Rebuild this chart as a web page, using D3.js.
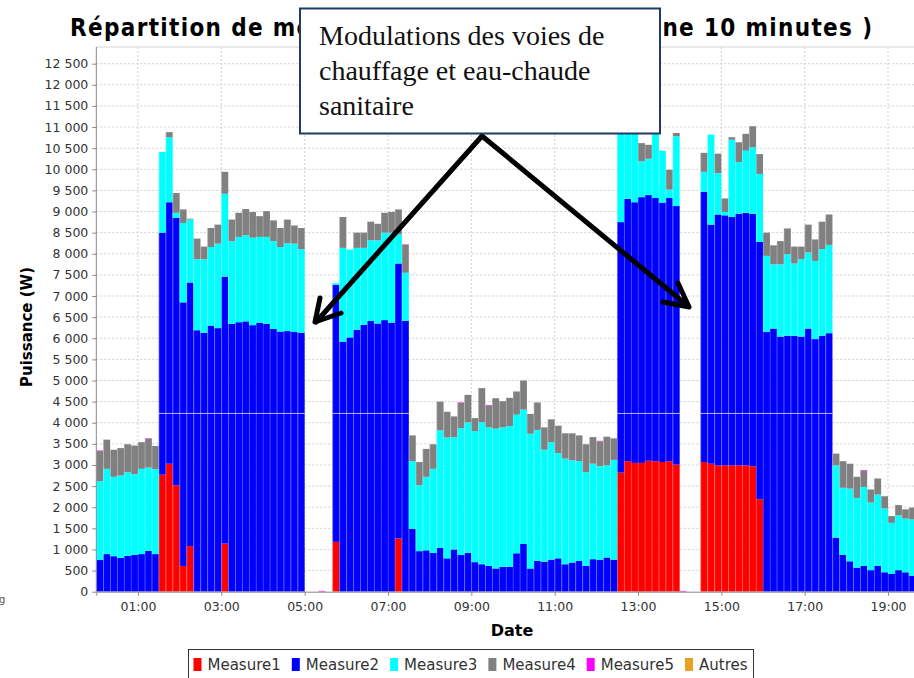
<!DOCTYPE html>
<html>
<head>
<meta charset="utf-8">
<script src="https://cdn.jsdelivr.net/npm/d3@7"></script>
<style>
  body { margin: 0; background: #fff; }
  svg { display: block; font-family: "DejaVu Sans", sans-serif; }
</style>
</head>
<body>
<div id="chart"></div>
<script>
// 10 minute averages, one value per bar, starting at 00:00
const START_TIME = '00:00';
const STEP_MINUTES = 10;

const measure1 = [
  0, 0, 0, 0, 0, 0, 0, 0, 0, 2770,
  3030, 2520, 610, 1080, 0, 0, 0, 0, 1140, 0,
  0, 0, 0, 0, 0, 0, 0, 0, 0, 0,
  0, 0, 0, 0, 1180, 0, 0, 0, 0, 0,
  0, 0, 0, 1260, 0, 0, 0, 0, 0, 0,
  0, 0, 0, 0, 0, 0, 0, 0, 0, 0,
  0, 0, 0, 0, 0, 0, 0, 0, 0, 0,
  0, 0, 0, 0, 0, 2820, 3090, 3050, 3050, 3100,
  3090, 3070, 3090, 3010, 0, 0, 0, 3070, 3030, 2990,
  2990, 2990, 2990, 2990, 2970, 2190, 0, 0, 0, 0,
  0, 0, 0, 0, 0, 0, 0, 0, 0, 0,
  0, 0, 0, 0, 0, 0, 0, 0
];
const measure2 = [
  750, 890, 840, 800, 850, 870, 890, 970, 890, 5730,
  6190, 6330, 6240, 6240, 6190, 6130, 6300, 6240, 6320, 6340,
  6380, 6400, 6310, 6370, 6340, 6220, 6160, 6170, 6150, 6130,
  0, 0, 0, 0, 6080, 5920, 6020, 6200, 6320, 6410,
  6350, 6430, 6370, 6510, 6410, 1490, 960, 980, 920, 1040,
  790, 1000, 870, 920, 700, 650, 610, 550, 590, 590,
  910, 1130, 550, 730, 710, 760, 790, 650, 690, 730,
  610, 770, 750, 810, 760, 5930, 6210, 6170, 6290, 6290,
  6230, 6140, 6230, 6120, 0, 0, 0, 6400, 5660, 5940,
  5920, 5880, 5960, 5980, 5980, 6090, 6150, 6230, 6040, 6060,
  6060, 6040, 6230, 5980, 6060, 6120, 1280, 870, 720, 570,
  610, 510, 610, 460, 420, 510, 460, 380
];
const measure3 = [
  1870, 2020, 1880, 1950, 1980, 1910, 2020, 1970, 2010, 1910,
  1540, 120, 1880, 1490, 1680, 1740, 1860, 2000, 1960, 1960,
  2020, 2040, 2070, 2030, 2060, 2080, 2000, 2080, 2090, 1980,
  0, 0, 0, 0, 40, 2220, 2080, 1940, 1820, 1910,
  1970, 2070, 2130, 690, 1140, 1600, 1560, 1740, 1990, 2780,
  2860, 2660, 3000, 3090, 3100, 3360, 3280, 3310, 3300, 3330,
  3280, 3180, 3190, 3100, 2650, 2780, 2490, 2500, 2420, 2360,
  2220, 2260, 2220, 2180, 2360, 2750, 2300, 2280, 850, 860,
  1980, 1230, 200, 1650, 0, 0, 0, 470, 2130, 980,
  80, 1830, 1220, 1470, 1570, 1610, 1800, 1520, 1710, 1930,
  1710, 1830, 1800, 1850, 2050, 2090, 1710, 1590, 1720, 1650,
  1870, 1600, 1690, 1510, 1210, 1300, 1270, 1330
];
const measure4 = [
  710, 690, 640, 650, 660, 680, 630, 680, 550, 0,
  120, 470, 320, 20, 490, 300, 450, 450, 520, 510,
  570, 620, 610, 490, 610, 490, 450, 560, 430, 500,
  0, 0, 0, 0, 0, 730, 0, 360, 360, 440,
  390, 470, 490, 590, 660, 610, 550, 660, 580, 680,
  610, 490, 600, 650, 310, 810, 520, 720, 620, 670,
  550, 690, 470, 650, 530, 540, 650, 600, 640, 610,
  660, 630, 590, 680, 510, 0, 0, 0, 430, 330,
  0, 0, 470, 80, 0, 0, 0, 450, 0, 460,
  320, 60, 470, 400, 500, 470, 550, 450, 550, 610,
  400, 300, 660, 510, 650, 720, 280, 630, 590, 500,
  390, 310, 380, 290, 160, 240, 220, 280
];
const measure5 = [
  12, 0, 0, 0, 0, 0, 0, 12, 0, 0,
  0, 0, 0, 0, 0, 0, 0, 0, 0, 0,
  0, 0, 0, 0, 0, 0, 0, 0, 0, 0,
  0, 0, 20, 0, 0, 0, 0, 0, 0, 0,
  0, 0, 0, 0, 12, 0, 0, 0, 0, 0,
  0, 0, 12, 0, 0, 0, 12, 0, 0, 0,
  0, 0, 0, 0, 0, 0, 0, 0, 0, 0,
  0, 0, 12, 0, 0, 0, 0, 0, 0, 0,
  0, 0, 0, 0, 20, 0, 0, 0, 0, 0,
  0, 0, 0, 0, 0, 0, 0, 0, 0, 0,
  0, 0, 0, 0, 0, 0, 0, 0, 0, 0,
  12, 0, 0, 0, 0, 0, 0, 0
];
const autres = [
  0, 0, 0, 0, 0, 0, 0, 0, 0, 0,
  0, 0, 0, 0, 0, 0, 0, 0, 0, 0,
  0, 0, 0, 0, 0, 0, 0, 0, 0, 0,
  0, 0, 0, 0, 0, 0, 0, 0, 0, 0,
  0, 0, 0, 0, 0, 0, 0, 0, 0, 0,
  0, 0, 0, 0, 0, 0, 0, 0, 0, 0,
  0, 0, 0, 0, 0, 0, 0, 0, 0, 0,
  0, 0, 0, 0, 0, 0, 0, 0, 0, 0,
  0, 0, 0, 0, 0, 0, 0, 0, 0, 0,
  0, 0, 0, 0, 0, 0, 0, 0, 0, 0,
  0, 0, 0, 0, 0, 0, 0, 0, 0, 0,
  0, 0, 0, 0, 0, 0, 0, 0
];

const seriesNames = ['Measure1', 'Measure2', 'Measure3', 'Measure4', 'Measure5', 'Autres'];
const seriesColors = ['#ff0000', '#0000ff', '#00ffff', '#808080', '#ff00ff', '#e6a321'];
const xTickLabels = ['01:00', '03:00', '05:00', '07:00', '09:00', '11:00', '13:00', '15:00', '17:00', '19:00'];
const yTickValues = [0, 500, 1000, 1500, 2000, 2500, 3000, 3500, 4000, 4500, 5000, 5500, 6000,
  6500, 7000, 7500, 8000, 8500, 9000, 9500, 10000, 10500, 11000, 11500, 12000, 12500];

const titleText = 'Répartition de mesures électriques ( moyenne 10 minutes )';
const noteLines = ['Modulations des voies de', 'chauffage et eau-chaude', 'sanitaire'];

const width = 914, height = 678;
const plotLeft = 96.3, plotTop = 47, plotBottom = 591.7;
const pxPerHour = 41.67;

const parseTime = d3.timeParse('%H:%M');
const t0 = parseTime(START_TIME);

const seriesValues = [measure1, measure2, measure3, measure4, measure5, autres];
const rows = measure1.map((v, i) => {
  const row = { time: d3.timeMinute.offset(t0, i * STEP_MINUTES) };
  seriesNames.forEach((name, k) => { row[name] = seriesValues[k][i]; });
  return row;
});
const total = r => d3.sum(seriesNames, n => r[n]);
const nextTime = t => d3.timeMinute.offset(t, STEP_MINUTES);

const x = d3.scaleTime()
  .domain([t0, d3.timeMinute.offset(t0, 20 * 60)])
  .range([plotLeft, plotLeft + 20 * pxPerHour]);
const y = d3.scaleLinear()
  .domain([0, 12500])
  .range([plotBottom, 63.7]);

const fr = d3.formatLocale({ decimal: ',', thousands: '\u00a0', grouping: [3], currency: ['', ' €'] });
const yFormat = fr.format(',');

const svg = d3.select('#chart').append('svg')
  .attr('width', width)
  .attr('height', height);

svg.append('rect').attr('width', width).attr('height', height).attr('fill', '#fff');

svg.append('defs').append('clipPath').attr('id', 'plot-clip')
  .append('rect')
  .attr('x', plotLeft).attr('y', plotTop)
  .attr('width', width - plotLeft).attr('height', plotBottom - plotTop);

// title (partly hidden behind the note box, as in the original)
svg.append('text')
  .attr('x', 70)
  .attr('y', 36)
  .attr('textLength', 802)
  .attr('lengthAdjust', 'spacing')
  .style('font-size', '24px')
  .style('font-weight', 'bold')
  .style('font-stretch', 'condensed')
  .attr('fill', '#000')
  .text(titleText);

// plot frame top
svg.append('line')
  .attr('x1', plotLeft).attr('x2', width)
  .attr('y1', plotTop).attr('y2', plotTop)
  .attr('stroke', '#d4d4d4');

// gridlines
const xTicks = xTickLabels.map(parseTime);
svg.append('g').selectAll('line').data(yTickValues.slice(1)).join('line')
  .attr('x1', plotLeft).attr('x2', width)
  .attr('y1', d => y(d)).attr('y2', d => y(d))
  .attr('stroke', '#cfcfcf')
  .attr('stroke-dasharray', '2,2');
svg.append('g').selectAll('line').data(xTicks).join('line')
  .attr('x1', d => x(d)).attr('x2', d => x(d))
  .attr('y1', plotTop).attr('y2', plotBottom)
  .attr('stroke', '#cfcfcf')
  .attr('stroke-dasharray', '2,2');

// stacked bars
const stacked = d3.stack().keys(seriesNames)(rows);
const barLayer = svg.append('g').attr('clip-path', 'url(#plot-clip)');
barLayer.selectAll('g.layer').data(stacked).join('g')
  .attr('class', 'layer')
  .attr('fill', (d, k) => seriesColors[k])
  .selectAll('rect').data(d => d).join('rect')
  .attr('x', d => x(d.data.time))
  .attr('width', d => x(nextTime(d.data.time)) - x(d.data.time))
  .attr('y', d => y(d[1]))
  .attr('height', d => Math.max(0, y(d[0]) - y(d[1])));

// light separators between bars
barLayer.append('g').selectAll('line').data(rows.filter(r => total(r) > 0)).join('line')
  .attr('x1', d => x(d.time) + 0.3)
  .attr('x2', d => x(d.time) + 0.3)
  .attr('y1', plotBottom)
  .attr('y2', d => y(total(d)))
  .attr('stroke', '#fff')
  .attr('stroke-opacity', 0.35)
  .attr('stroke-width', 0.7);

// faint horizontal seam visible across the tall bars
barLayer.append('g').selectAll('line').data(rows.filter(r => r.Measure1 + r.Measure2 > 4300)).join('line')
  .attr('x1', d => x(d.time))
  .attr('x2', d => x(nextTime(d.time)))
  .attr('y1', y(4220)).attr('y2', y(4220))
  .attr('stroke', '#fff')
  .attr('stroke-opacity', 0.7);

// axes
const yAxis = svg.append('g')
  .attr('transform', `translate(${plotLeft},0)`)
  .call(d3.axisLeft(y).tickValues(yTickValues).tickFormat(yFormat).tickSize(4).tickPadding(4));
yAxis.select('.domain').attr('d', `M0,${plotTop}V${plotBottom}`);

const xAxis = svg.append('g')
  .attr('transform', `translate(0,${plotBottom})`)
  .call(d3.axisBottom(x).tickValues(xTicks).tickFormat(d3.timeFormat('%H:%M')).tickSize(4).tickPadding(6));

[yAxis, xAxis].forEach(a => {
  a.selectAll('.domain').attr('stroke', '#888');
  a.selectAll('.tick line').attr('stroke', '#888');
  a.selectAll('.tick text').attr('fill', '#333').style('font-size', '12.5px').style('font-family', '"DejaVu Sans", sans-serif');
});

svg.append('text')
  .attr('transform', 'translate(32,327) rotate(-90)')
  .attr('text-anchor', 'middle')
  .style('font-size', '15px')
  .style('font-weight', 'bold')
  .text('Puissance (W)');

svg.append('text')
  .attr('x', 512)
  .attr('y', 636)
  .attr('text-anchor', 'middle')
  .style('font-size', '16px')
  .style('font-weight', 'bold')
  .text('Date');

svg.append('text')
  .attr('x', -1).attr('y', 603)
  .style('font-size', '10px')
  .attr('fill', '#555')
  .text('g');

// legend
const legend = svg.append('g');
let lx = 193.5;
seriesNames.forEach((name, k) => {
  legend.append('rect')
    .attr('x', lx).attr('y', 658)
    .attr('width', 8).attr('height', 13)
    .attr('fill', seriesColors[k]);
  const t = legend.append('text')
    .attr('x', lx + 14).attr('y', 670)
    .style('font-size', '15px')
    .attr('fill', '#333')
    .text(name);
  lx += 14 + t.node().getComputedTextLength() + 11;
});
legend.insert('rect', ':first-child')
  .attr('x', 188.5).attr('y', 649.5)
  .attr('width', lx - 188.5 - 5).attr('height', 40)
  .attr('fill', '#fff')
  .attr('stroke', '#333');

// annotation with arrows
const note = svg.append('g');
const arrowPaths = [
  'M482,136L316,322', 'M320,298L315,322L341,313',
  'M482,136L688,306', 'M678,283L689,307L663,302'
];
note.selectAll('path').data(arrowPaths).join('path')
  .attr('d', d => d)
  .attr('fill', 'none')
  .attr('stroke', '#000')
  .attr('stroke-width', 5)
  .attr('stroke-linecap', 'round')
  .attr('stroke-linejoin', 'round');

note.append('rect')
  .attr('x', 300).attr('y', 8.5)
  .attr('width', 360).attr('height', 125)
  .attr('fill', '#fff')
  .attr('stroke', '#1f3b68')
  .attr('stroke-width', 2);

note.selectAll('text').data(noteLines).join('text')
  .attr('x', 319)
  .attr('y', (d, i) => 45 + i * 35)
  .style('font-family', '"Liberation Serif", serif')
  .style('font-size', '28px')
  .attr('fill', '#111')
  .text(d => d);
</script>
</body>
</html>
